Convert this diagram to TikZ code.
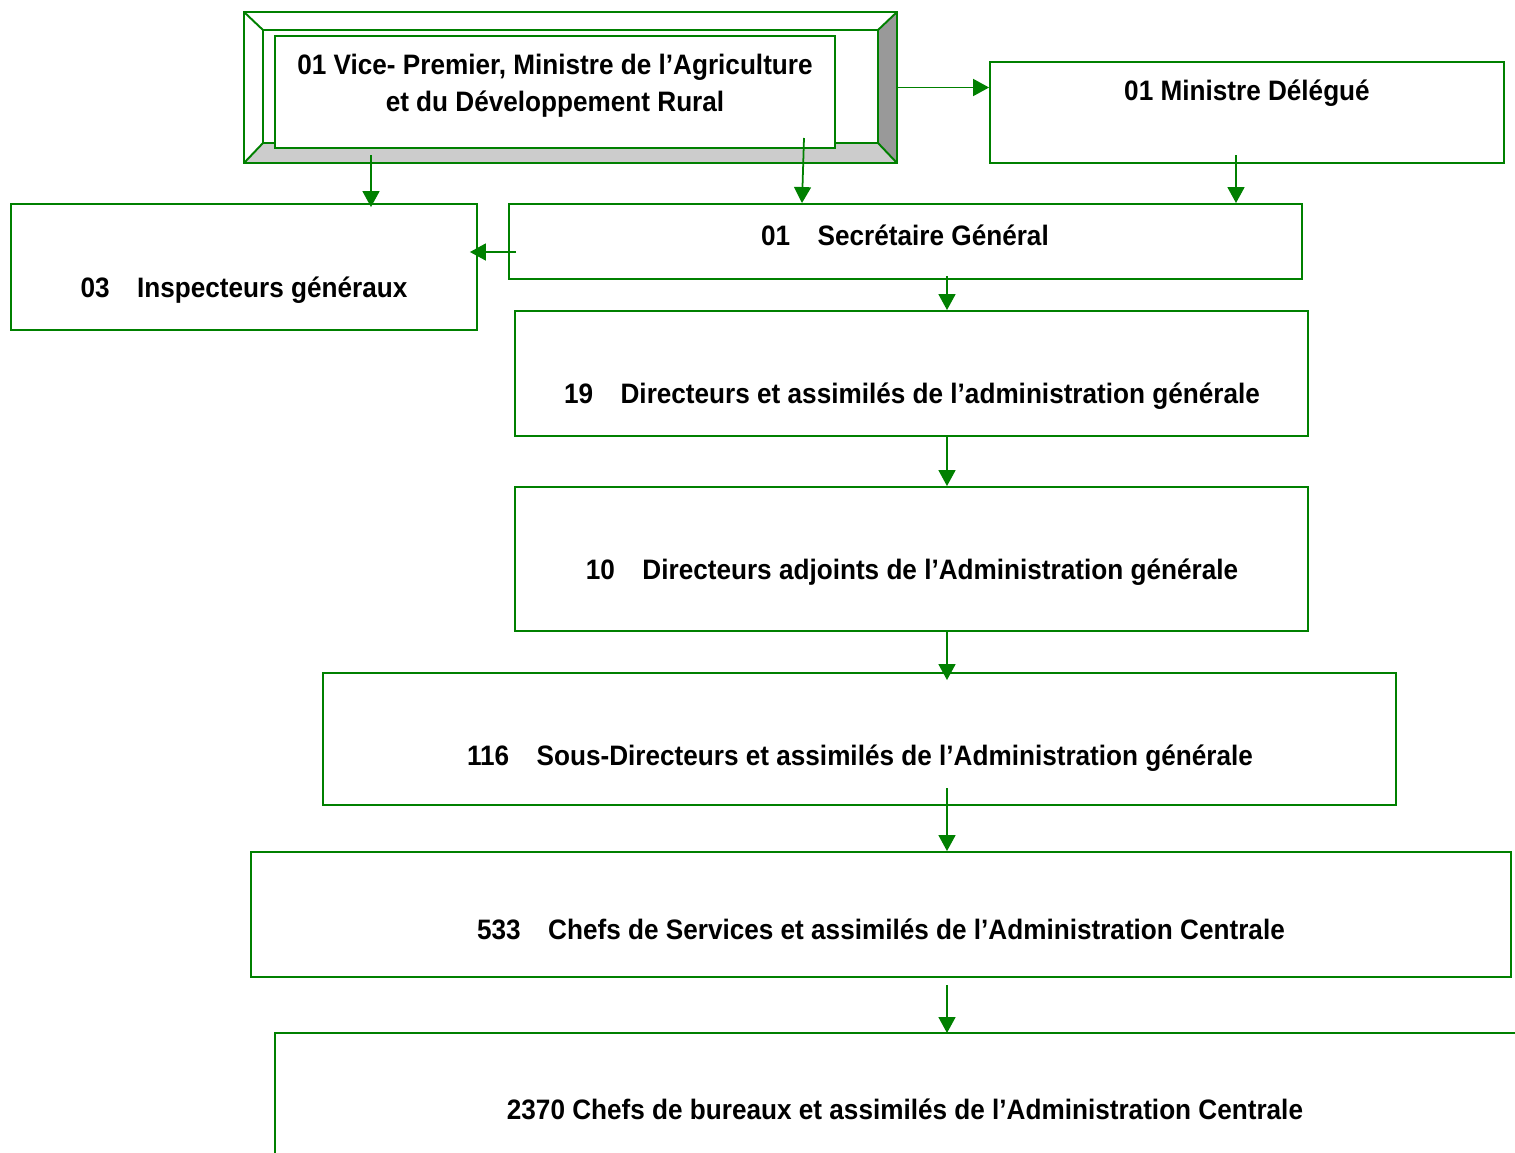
\documentclass[tikz,border=0pt]{standalone}
\usepackage{fontspec}
\setmainfont{Liberation Sans}[FakeStretch=0.93]
\usetikzlibrary{arrows.meta, calc}
\definecolor{vert}{RGB}{0,128,0}

\begin{document}
\begin{tikzpicture}[x=0.02cm, y=-0.02cm,
    boite/.style={draw=vert, line width=1.1pt, rectangle, inner sep=0pt},
    texte/.style={font=\bfseries\fontsize{16}{21}\selectfont, align=center, inner sep=0pt},
    fleche/.style={draw=vert, line width=1pt, -{Triangle[length=0.32cm, width=0.34cm]}}
]
\useasboundingbox (0,0) rectangle (1515,1153);
%% cadre en relief du Vice-Premier
\fill[gray!40] (244,163) -- (263,143) -- (878,143) -- (897,163) -- cycle;
\fill[gray!80] (897,12) -- (897,163) -- (878,143) -- (878,30) -- cycle;
\node[boite, minimum width=13.06cm, minimum height=3.02cm] (cadre) at (570.5,87.5) {};
\draw[vert, line width=1.1pt] (263,30) rectangle (878,143);
\draw[vert, line width=1.1pt] (244,12) -- (263,30) (897,12) -- (878,30)
  (244,163) -- (263,143) (897,163) -- (878,143);
\node[boite, fill=white, minimum width=11.2cm, minimum height=2.24cm] (vp) at (555,92) {};
\node[texte] at (555,86) {01 Vice- Premier, Ministre de l’Agriculture\\et du Développement Rural};
%% les autres cases
\node[boite, minimum width=10.28cm, minimum height=2.02cm] (md) at (1247,112.5) {};
\node[texte] at (1247,93) {01 Ministre Délégué};
\node[boite, minimum width=15.86cm, minimum height=1.5cm] (sg) at (905.5,241.5) {};
\node[texte] at (905,235) {01\hspace{0.55cm}Secrétaire Général};
\node[boite, minimum width=9.32cm, minimum height=2.52cm] (ig) at (244,267) {};
\node[texte] at (244,290) {03\hspace{0.55cm}Inspecteurs généraux};
\node[boite, minimum width=15.86cm, minimum height=2.5cm] (d19) at (911.5,373.5) {};
\node[texte] at (912,396) {19\hspace{0.55cm}Directeurs et assimilés de l’administration générale};
\node[boite, minimum width=15.86cm, minimum height=2.88cm] (d10) at (911.5,559) {};
\node[texte] at (912,572) {10\hspace{0.55cm}Directeurs adjoints de l’Administration générale};
\node[boite, minimum width=21.46cm, minimum height=2.64cm] (sd) at (859.5,739) {};
\node[texte] at (860,758) {116\hspace{0.55cm}Sous-Directeurs et assimilés de l’Administration générale};
\node[boite, minimum width=25.2cm, minimum height=2.5cm] (cs) at (881,914.5) {};
\node[texte] at (881,929) {533\hspace{0.55cm}Chefs de Services et assimilés de l’Administration Centrale};
\coordinate (cb) at (275,1033);
\draw[vert, line width=1.1pt] (275,1153) -- (cb) -- (1515,1033);
\node[texte] at (905,1109) {2370 Chefs de bureaux et assimilés de l’Administration Centrale};
%% liaisons
\coordinate (a1) at (371,155);
\coordinate (a2) at (804,138);
\coordinate (a3) at (1236,155);
\coordinate (a4) at (516,252);
\coordinate (a5) at (947,276);
\coordinate (a6) at (947,788);
\coordinate (a7) at (947,985);
\draw[fleche] (cadre.east) -- (md.west |- cadre.east);
\draw[fleche] (a1) -- ($(a1 |- ig.north)+(0,4)$);
\draw[fleche] (a2) -- ($(a2 |- sg.north)+(-2,0)$);
\draw[fleche] (a3) -- (a3 |- sg.north);
\draw[fleche] (a4) -- ($(ig.east |- a4)+(-8,0)$);
\draw[fleche] (a5) -- (a5 |- d19.north);
\draw[fleche] (a5 |- d19.south) -- (a5 |- d10.north);
\draw[fleche] (a5 |- d10.south) -- ($(a5 |- sd.north)+(0,8)$);
\draw[fleche] (a6) -- (a6 |- cs.north);
\draw[fleche] (a7) -- (a7 |- cb);
\end{tikzpicture}
\end{document}
